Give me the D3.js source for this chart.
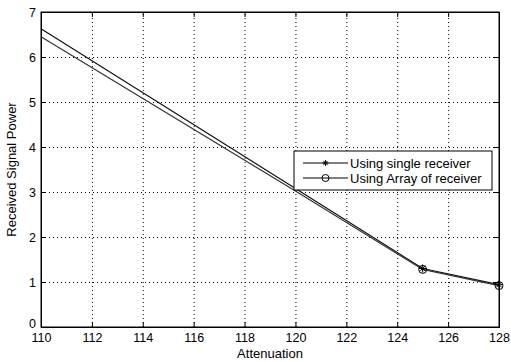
<!DOCTYPE html>
<html>
<head>
<meta charset="utf-8">
<script src="https://cdn.jsdelivr.net/npm/d3@7"></script>
<style>
  body { margin: 0; background: #fff; }
  text { font-family: "Liberation Sans", Arial, sans-serif; fill: #000; }
  .grid line { stroke: #000; stroke-dasharray: 1,3; stroke-width: 1; }
  .grid path { display: none; }
</style>
</head>
<body>
<div id="chart"></div>
<script>
// data
var attenuation = [110, 120, 125, 128];
var singleReceiver = [6.63, 3.08, 1.30, 0.94];
var arrayReceiver = [6.45, 3.02, 1.28, 0.92];
var markerFrom = 125; // markers only drawn at the last two points
var xTicks = [110, 112, 114, 116, 118, 120, 122, 124, 126, 128];
var yTicks = [0, 1, 2, 3, 4, 5, 6, 7];
var seriesNames = ["Using single receiver", "Using Array of receiver"];

var W = 511, H = 362;
var margin = { top: 12, right: 12, bottom: 35, left: 41 },
    width = W - margin.left - margin.right,
    height = H - margin.top - margin.bottom;

var x = d3.scaleLinear().domain([110, 128]).range([0, width]);
var y = d3.scaleLinear().domain([0, 7]).range([height, 0]);

var svg = d3.select("#chart").append("svg")
    .attr("width", W)
    .attr("height", H)
    .append("g")
    .attr("transform", "translate(" + margin.left + "," + margin.top + ")");

// grid
svg.append("g")
    .attr("class", "grid")
    .attr("transform", "translate(0," + height + ")")
    .call(d3.axisBottom(x).tickValues(xTicks).tickSize(-height).tickFormat(""));
svg.append("g")
    .attr("class", "grid")
    .call(d3.axisLeft(y).tickValues(yTicks).tickSize(-width).tickFormat(""));

// axes, MATLAB style: ticks inside
var fontSize = "12.5px";
var xb = svg.append("g")
    .attr("transform", "translate(0," + height + ")")
    .call(d3.axisBottom(x).tickValues(xTicks).tickFormat(d3.format("d"))
        .tickSizeInner(-5).tickSizeOuter(0).tickPadding(4));
xb.selectAll("text").style("font-size", fontSize).attr("dy", "0.9em");
var yl = svg.append("g")
    .call(d3.axisLeft(y).tickValues(yTicks).tickFormat(d3.format("d"))
        .tickSizeInner(-5).tickSizeOuter(0).tickPadding(5));
yl.selectAll("text").style("font-size", fontSize);
// the 0 label sits a little higher so it clears the 110 label
yl.selectAll(".tick").filter(function (d) { return d === 0; })
    .select("text").attr("dy", "0.05em");
svg.append("g")
    .call(d3.axisTop(x).tickValues(xTicks).tickSizeInner(-5).tickSizeOuter(0).tickFormat(""));
svg.append("g")
    .attr("transform", "translate(" + width + ",0)")
    .call(d3.axisRight(y).tickValues(yTicks).tickSizeInner(-5).tickSizeOuter(0).tickFormat(""));
svg.selectAll(".domain").attr("stroke", "#000");
svg.selectAll(".tick line").attr("stroke", "#000");

svg.append("rect")
    .attr("width", width).attr("height", height)
    .attr("fill", "none").attr("stroke", "#000");

// lines
var line = d3.line()
    .x(function (d) { return x(d[0]); })
    .y(function (d) { return y(d[1]); });

var series = [singleReceiver, arrayReceiver].map(function (vals) {
    return attenuation.map(function (a, i) { return [a, vals[i]]; });
});

series.forEach(function (pts, k) {
    svg.append("path")
        .datum(pts)
        .attr("d", line)
        .attr("fill", "none")
        .attr("stroke", k === 0 ? "#111" : "#333")
        .attr("stroke-width", 1.2);
});

function star(g, cx, cy, r) {
    var s = r * 0.7;
    g.append("path")
        .attr("d", "M" + (cx - r) + "," + cy + "H" + (cx + r) +
            "M" + cx + "," + (cy - r) + "V" + (cy + r) +
            "M" + (cx - s) + "," + (cy - s) + "L" + (cx + s) + "," + (cy + s) +
            "M" + (cx - s) + "," + (cy + s) + "L" + (cx + s) + "," + (cy - s))
        .attr("stroke", "#000").attr("stroke-width", 1).attr("fill", "none");
}
function circ(g, cx, cy, r) {
    g.append("circle").attr("cx", cx).attr("cy", cy).attr("r", r)
        .attr("fill", "none").attr("stroke", "#000").attr("stroke-width", 1);
}

series[0].filter(function (d) { return d[0] >= markerFrom; }).forEach(function (d) {
    star(svg, x(d[0]), y(d[1]), 4);
});
series[1].filter(function (d) { return d[0] >= markerFrom; }).forEach(function (d) {
    circ(svg, x(d[0]), y(d[1]), 4);
});

// axis titles
svg.append("text")
    .attr("x", x(119)).attr("y", height + 31)
    .attr("text-anchor", "middle")
    .style("font-size", "13px")
    .text("Attenuation");
svg.append("text")
    .attr("transform", "translate(" + (-25) + "," + (height / 2) + ") rotate(-90)")
    .attr("text-anchor", "middle")
    .style("font-size", "13px")
    .text("Received Signal Power");

// legend
var lx = 253, ly = 139, lw = 198, lh = 39;
var leg = svg.append("g").attr("transform", "translate(" + lx + "," + ly + ")");
leg.append("rect").attr("width", lw).attr("height", lh)
    .attr("fill", "#fff").attr("stroke", "#000");
seriesNames.forEach(function (name, i) {
    var cy = 12 + i * 15;
    leg.append("line").attr("x1", 9).attr("x2", 54).attr("y1", cy).attr("y2", cy)
        .attr("stroke", "#000");
    if (i === 0) star(leg, 31.5, cy, 3);
    else circ(leg, 31.5, cy, 3.5);
    leg.append("text").attr("x", 56).attr("y", cy).attr("dy", "0.35em")
        .style("font-size", "13px").text(name);
});
</script>
</body>
</html>
